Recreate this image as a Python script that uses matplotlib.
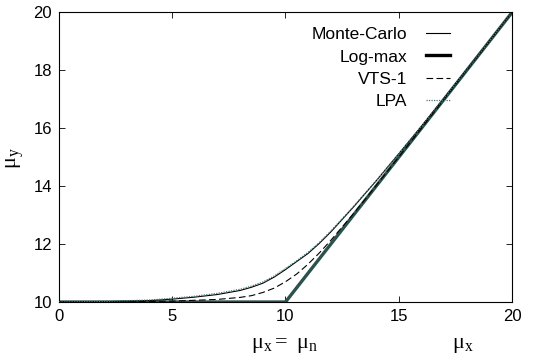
import matplotlib
matplotlib.use('Agg')
import matplotlib.pyplot as plt

plt.rcParams['font.family'] = ['Liberation Sans', 'DejaVu Sans']
plt.rcParams['mathtext.fontset'] = 'custom'
plt.rcParams['mathtext.rm'] = 'Liberation Serif'
plt.rcParams['mathtext.it'] = 'Liberation Serif'

# values (mu_n = 10)
mu_x = [0, 2, 4, 5, 6, 7, 8, 8.5, 9, 9.5, 10, 10.5, 11, 11.5, 12, 13, 14, 15, 16, 17, 18, 19, 20]
monte_carlo = [10.0, 10.01, 10.05, 10.1, 10.17, 10.26, 10.4, 10.51, 10.65, 10.86, 11.12, 11.4, 11.68, 12.03,
               12.42, 13.28, 14.18, 15.12, 16.07, 17.04, 18.02, 19.01, 20.0]
log_max = [10, 10, 10, 10, 10, 10, 10, 10, 10, 10, 10, 10.5, 11, 11.5, 12, 13, 14, 15, 16, 17, 18, 19, 20]
vts1 = [10.0, 10.0, 10.02, 10.03, 10.06, 10.09, 10.16, 10.22, 10.33, 10.48, 10.7, 10.97, 11.31, 11.7,
        12.13, 13.05, 14.02, 15.01, 16.0, 17.0, 18.0, 19.0, 20.0]
lpa = [10.0, 10.02, 10.07, 10.13, 10.2, 10.3, 10.44, 10.55, 10.69, 10.9, 11.16, 11.43, 11.72, 12.06,
       12.45, 13.3, 14.19, 15.12, 16.07, 17.04, 18.02, 19.01, 20.0]

fig = plt.figure(figsize=(5.42, 3.63), dpi=100)
ax = fig.add_axes([0.1089, 0.168, 0.8357, 0.7976])

ax.plot(mu_x, monte_carlo, color='black', lw=0.8, label='Monte-Carlo', zorder=3)
ax.plot(mu_x, log_max, color='#2b524c', lw=2.4, label='Log-max', zorder=2)
ax.plot(mu_x, vts1, color='black', lw=0.8, ls=(0, (6, 3)), label='VTS-1', zorder=3)
ax.plot(mu_x, lpa, color='#4a7a78', lw=0.9, ls=(0, (1, 1)), label='LPA', zorder=3)

ax.set_xlim(0, 20)
ax.set_ylim(10, 20)
ax.set_xticks([0, 5, 10, 15, 20])
ax.set_yticks([10, 12, 14, 16, 18, 20])
ax.tick_params(direction='in', top=True, right=True, labelsize=12, length=4, width=0.6, pad=5)
for s in ax.spines.values():
    s.set_linewidth(0.8)

leg = ax.legend(loc='upper right', bbox_to_anchor=(0.863, 0.95), frameon=False, markerfirst=False,
                fontsize=12.5, handlelength=1.35, labelspacing=0.42, handletextpad=1.1,
                borderpad=0, borderaxespad=0)
for t in leg.get_texts():
    t.set_ha('right')
leg.legend_handles[1].set_color('black')

fig.text(0.526, 0.05, r'$\mathrm{μ_x =\ μ_n}$', fontsize=16, ha='center', va='center')
fig.text(0.854, 0.05, r'$\mathrm{μ_x}$', fontsize=16, ha='center', va='center')
fig.text(0.028, 0.565, r'$\mathrm{μ_y}$', fontsize=16, ha='center', va='center', rotation=90)

fig.savefig('out.png', dpi=100)
